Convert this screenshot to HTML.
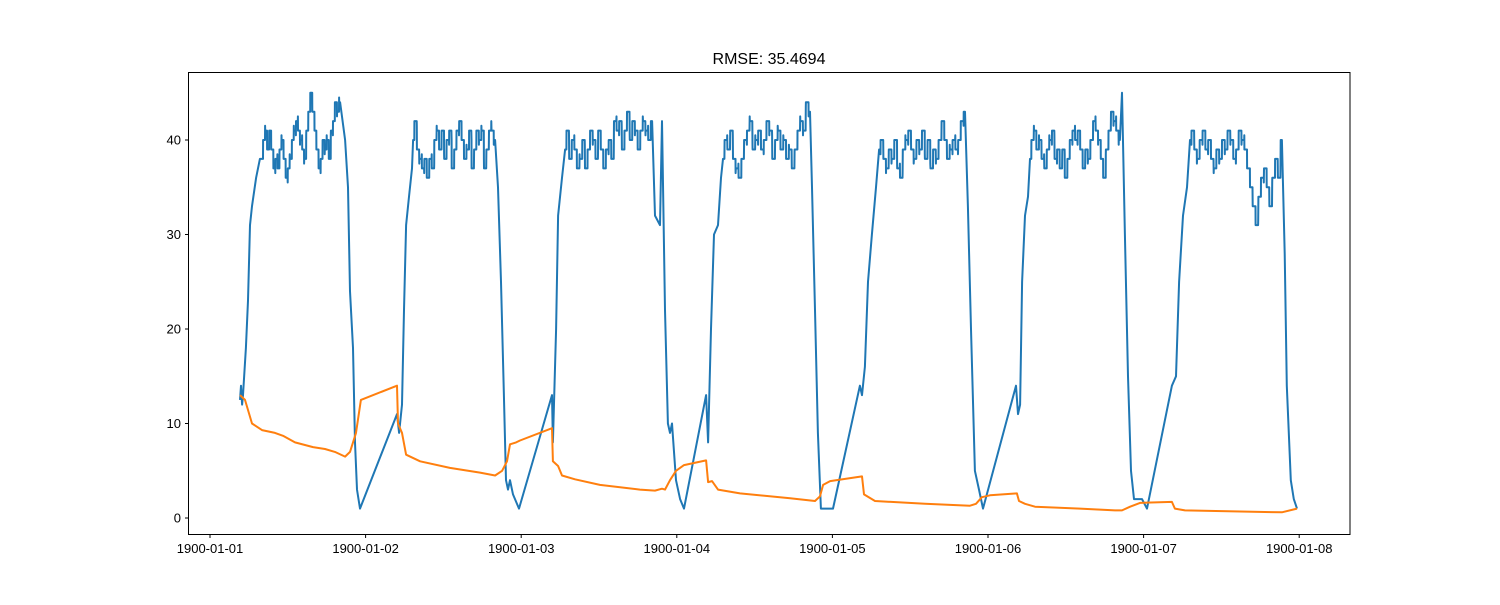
<!DOCTYPE html>
<html><head><meta charset="utf-8"><style>
body{margin:0;background:#fff;}
svg text{font-family:"Liberation Sans",sans-serif;}
</style></head><body>
<svg id="chart" width="1500" height="600" xmlns="http://www.w3.org/2000/svg">
<rect width="1500" height="600" fill="#fff"/>
<text x="769" y="64" font-size="16" text-anchor="middle">RMSE: 35.4694</text>
<g id="axes"></g>
<g id="series"></g>
<rect x="188.5" y="72.5" width="1161.5" height="462" fill="none" stroke="#000" stroke-width="1"/>
</svg>
<script>
const xTickLabels=["1900-01-01","1900-01-02","1900-01-03","1900-01-04","1900-01-05","1900-01-06","1900-01-07","1900-01-08"];
const yTicks=[0,10,20,30,40];
const blueKnots=[
[[0.193,12.5],[0.199,14],[0.206,12],[0.212,13],[0.231,18],[0.244,23],[0.257,31],[0.27,33],[0.296,36],[0.321,38]],
[[0.868,40],[0.887,35],[0.9,24],[0.919,18],[0.932,8],[0.945,3],[0.964,1],[1.202,11],[1.215,9],[1.234,12],[1.247,22],[1.26,31],[1.279,34],[1.298,37]],
[[1.851,35],[1.87,25],[1.889,13],[1.902,4],[1.915,3],[1.928,4],[1.947,2.5],[1.986,1],[2.198,13],[2.204,8],[2.224,20],[2.237,32],[2.262,36]],
[[2.86,32],[2.892,31],[2.905,42],[2.924,22],[2.943,10],[2.956,9],[2.969,10],[2.995,4],[3.021,2],[3.046,1],[3.188,13],[3.201,8],[3.22,20],[3.239,30],[3.265,31],[3.284,36]],
[[3.869,35],[3.888,22],[3.907,9],[3.926,1],[4.004,1],[4.177,14],[4.19,13],[4.209,16],[4.229,25],[4.254,30],[4.28,35]],
[[4.871,33],[4.891,20],[4.916,5],[4.942,3],[4.968,1],[5.18,14],[5.193,11],[5.206,12],[5.219,25],[5.238,32],[5.257,34]],
[[5.861,45],[5.88,30],[5.9,15],[5.919,5],[5.938,2],[5.99,2],[6.022,1],[6.182,14],[6.208,15],[6.228,25],[6.253,32],[6.279,35]],
[[6.907,28],[6.92,14],[6.933,9],[6.946,4],[6.965,2],[6.986,1]]
];
const plateauSpans=[[0.334,0.836],[1.305,1.832],[2.282,2.841],[3.297,3.856],[4.3,4.852],[5.27,5.848],[6.298,6.889]];
const plat1=[38,40,41,39,41,39,37,38,37,39,40,38,36,37,38,40,41,42,41,40,39,38,41,43,45,43,41,39,37,38,40,39,40,38,41,42,44,43,44];
const plat2=[40,42,39,38,37,38,36,38,37,40,41,39,41,38,40,41,37,39,41,42,40,38,39,41,37,39,41,40,41,37,39,41,41,40];
const plat3=[39,41,38,40,39,37,38,40,37,39,41,40,38,41,39,37,39,40,38,42,41,42,39,41,43,40,42,41,39,41,42,41,40,42];
const plat4=[38,40,39,41,38,37,36,38,40,41,42,39,40,41,39,40,42,41,38,40,41,39,40,38,39,37,39,41,42,41,44,43];
const plat5=[39,40,38,37,39,38,40,37,36,39,40,41,39,38,40,39,41,38,40,37,39,38,40,42,40,38,39,40,39,40,42,43];
const plat6=[38,40,41,39,40,38,37,39,40,41,38,39,37,39,36,38,40,41,40,41,39,37,39,38,40,42,41,40,38,36,39,41,43,42,41,40];
const plat7=[40,41,39,38,40,41,39,40,38,37,39,38,40,39,41,40,38,39,41,40,39,37,35,33,31,34,36,37,35,33,36,38,36,40];
const plateaus=[plat1,plat2,plat3,plat4,plat5,plat6,plat7];
const orangeT=[0.193,0.225,0.27,0.334,0.418,0.469,0.546,0.662,0.739,0.803,0.868,0.9,0.938,0.97,1.202,1.208,1.234,1.26,1.35,1.542,1.735,1.832,1.877,1.909,1.928,1.967,1.992,2.198,2.204,2.237,2.262,2.346,2.506,2.763,2.86,2.905,2.924,2.956,2.995,3.046,3.188,3.201,3.226,3.265,3.406,3.728,3.888,3.92,3.94,3.985,4.19,4.203,4.274,4.595,4.884,4.923,4.961,5.013,5.186,5.199,5.238,5.302,5.591,5.816,5.861,5.913,5.977,6.182,6.201,6.266,6.889,6.986];
const orangeV=[13,12.5,10,9.3,9,8.7,8,7.5,7.3,7,6.5,7,9,12.5,14,10,9,6.7,6,5.3,4.8,4.5,5,6,7.8,8,8.2,9.5,6,5.5,4.5,4.1,3.5,3,2.9,3.1,3,4,5,5.6,6.1,3.8,3.9,3,2.6,2.1,1.8,2.3,3.5,3.9,4.4,2.5,1.8,1.5,1.3,1.5,2.2,2.4,2.6,1.8,1.5,1.2,1.0,0.8,0.8,1.2,1.6,1.7,1.0,0.8,0.6,1.0];

const NS="http://www.w3.org/2000/svg";
function xs(d){return 210+d*155.6;}
function ys(v){return 518-v*9.45;}
function mk(tag,attrs,parent){const e=document.createElementNS(NS,tag);for(const k in attrs)e.setAttribute(k,attrs[k]);parent.appendChild(e);return e;}
const axes=document.getElementById('axes');
xTickLabels.forEach((lab,i)=>{
  const x=xs(i);
  const t=mk('line',{x1:x,x2:x,y1:534.5,y2:538,stroke:'#000'},axes);
  
  
  const tx=mk('text',{x:x,y:553,'font-size':13,'text-anchor':'middle'},axes);
  tx.textContent=lab;
  
  
});
yTicks.forEach(v=>{
  const y=ys(v);
  const t=mk('line',{x1:185,x2:188.5,y1:y,y2:y,stroke:'#000'},axes);
  
  
  const tx=mk('text',{x:181,y:y+4.5,'font-size':13,'text-anchor':'end'},axes);
  tx.textContent=v;
  
  
});
const bluePts=[];
for(let c=0;c<7;c++){
  blueKnots[c].forEach(p=>bluePts.push(p));
  const vals=plateaus[c],[t0,t1]=plateauSpans[c];
  const dt=(t1-t0)/(vals.length-1);
  vals.forEach((v,i)=>{
    const t=t0+dt*i;
    bluePts.push([t,v]);
    if(i<vals.length-1){
      bluePts.push([t+dt*0.45,v]);
      bluePts.push([t+dt*0.5,(v+vals[i+1])/2+(i%2?1:-1)]);
      bluePts.push([t+dt*0.55,vals[i+1]]);
    }
  });
}
blueKnots[7].forEach(p=>bluePts.push(p));
const series=document.getElementById('series');
const bl=mk('polyline',{points:bluePts.map(p=>xs(p[0]).toFixed(1)+','+ys(p[1]).toFixed(1)).join(' '),fill:'none',stroke:'#1f77b4','stroke-width':2,'stroke-linejoin':'round'},series);


const ol=mk('polyline',{points:orangeT.map((t,i)=>xs(t).toFixed(1)+','+ys(orangeV[i]).toFixed(1)).join(' '),fill:'none',stroke:'#ff7f0e','stroke-width':2,'stroke-linejoin':'round'},series);


</script>
</body></html>
